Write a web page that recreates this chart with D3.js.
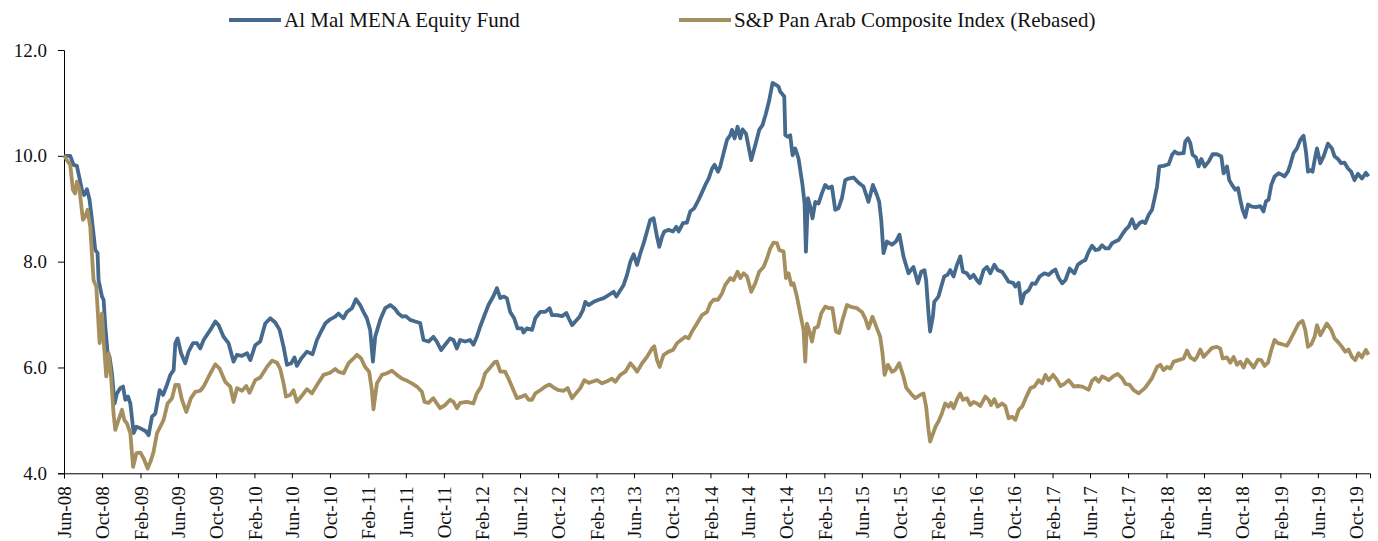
<!DOCTYPE html>
<html>
<head>
<meta charset="utf-8">
<script src="https://cdn.jsdelivr.net/npm/d3@7"></script>
<style>
  body { margin: 0; background: #fff; }
  svg { display: block; font-family: "Liberation Serif", serif; }
</style>
</head>
<body>
<script>
    // Data: [decimal year, value]
    let fundName = "Al Mal MENA Equity Fund";
    let indexName = "S&P Pan Arab Composite Index (Rebased)";
    let yTicks = [4, 6, 8, 10, 12];

    let fundSeries = [
        [2008.417,10.00],[2008.470,10.00],[2008.499,9.83],[2008.528,9.81],[2008.542,9.67],[2008.572,9.36],
        [2008.592,9.26],[2008.616,9.37],[2008.639,9.17],[2008.660,8.79],[2008.689,8.22],[2008.709,8.16],
        [2008.718,7.65],[2008.748,7.34],[2008.762,7.28],[2008.777,6.77],[2008.797,6.27],[2008.814,6.20],
        [2008.835,5.89],[2008.858,5.32],[2008.879,5.51],[2008.908,5.61],[2008.932,5.64],[2008.952,5.39],
        [2008.976,5.45],[2008.996,5.32],[2009.025,4.76],[2009.049,4.88],[2009.084,4.85],[2009.128,4.80],
        [2009.156,4.72],[2009.186,5.07],[2009.215,5.13],[2009.253,5.57],[2009.283,5.48],[2009.312,5.64],
        [2009.347,5.86],[2009.376,5.95],[2009.391,6.46],[2009.411,6.55],[2009.441,6.27],[2009.478,6.08],
        [2009.507,6.30],[2009.546,6.46],[2009.581,6.46],[2009.610,6.36],[2009.639,6.52],[2009.698,6.71],
        [2009.742,6.87],[2009.771,6.80],[2009.814,6.58],[2009.858,6.46],[2009.902,6.11],[2009.932,6.24],
        [2009.976,6.22],[2010.020,6.27],[2010.049,6.14],[2010.092,6.42],[2010.136,6.49],[2010.180,6.83],
        [2010.224,6.93],[2010.268,6.85],[2010.306,6.71],[2010.341,6.39],[2010.371,6.05],[2010.408,6.08],
        [2010.437,6.19],[2010.458,6.03],[2010.496,6.17],[2010.546,6.30],[2010.595,6.25],[2010.634,6.52],
        [2010.663,6.65],[2010.706,6.83],[2010.750,6.91],[2010.794,6.96],[2010.823,7.02],[2010.867,6.93],
        [2010.897,7.05],[2010.941,7.12],[2010.976,7.29],[2011.013,7.18],[2011.042,7.05],[2011.072,6.93],
        [2011.101,6.71],[2011.125,6.11],[2011.145,6.58],[2011.189,6.90],[2011.233,7.12],[2011.277,7.18],
        [2011.314,7.12],[2011.349,7.02],[2011.385,6.96],[2011.414,6.97],[2011.452,6.90],[2011.496,6.87],
        [2011.540,6.84],[2011.569,6.52],[2011.613,6.49],[2011.656,6.58],[2011.686,6.49],[2011.724,6.33],
        [2011.759,6.43],[2011.803,6.55],[2011.832,6.52],[2011.862,6.36],[2011.891,6.52],[2011.935,6.49],
        [2011.978,6.52],[2012.007,6.43],[2012.037,6.58],[2012.066,6.77],[2012.110,7.02],[2012.139,7.18],
        [2012.183,7.35],[2012.213,7.50],[2012.242,7.31],[2012.271,7.34],[2012.300,7.31],[2012.329,7.05],
        [2012.364,6.93],[2012.393,6.74],[2012.432,6.74],[2012.446,6.66],[2012.476,6.74],[2012.520,6.71],
        [2012.549,6.93],[2012.592,7.05],[2012.636,7.05],[2012.674,7.12],[2012.695,6.99],[2012.739,6.99],
        [2012.783,6.97],[2012.821,7.03],[2012.841,6.93],[2012.871,6.80],[2012.899,6.87],[2012.937,6.96],
        [2012.967,7.09],[2012.987,7.24],[2013.016,7.18],[2013.060,7.24],[2013.104,7.28],[2013.148,7.31],
        [2013.192,7.37],[2013.235,7.43],[2013.259,7.34],[2013.294,7.46],[2013.323,7.56],[2013.353,7.75],
        [2013.382,8.00],[2013.411,8.14],[2013.441,7.94],[2013.470,8.16],[2013.499,8.35],[2013.528,8.57],
        [2013.557,8.79],[2013.586,8.82],[2013.616,8.47],[2013.636,8.28],[2013.660,8.47],[2013.680,8.57],
        [2013.718,8.60],[2013.756,8.57],[2013.785,8.66],[2013.806,8.57],[2013.844,8.73],[2013.879,8.74],
        [2013.908,8.95],[2013.943,9.01],[2013.981,9.17],[2014.009,9.30],[2014.040,9.45],[2014.069,9.57],
        [2014.099,9.76],[2014.121,9.83],[2014.151,9.70],[2014.171,9.80],[2014.200,10.05],[2014.230,10.30],
        [2014.259,10.39],[2014.274,10.49],[2014.297,10.33],[2014.323,10.55],[2014.347,10.33],[2014.367,10.50],
        [2014.397,10.42],[2014.420,10.17],[2014.443,9.92],[2014.478,10.20],[2014.513,10.49],[2014.542,10.58],
        [2014.572,10.80],[2014.601,11.05],[2014.630,11.38],[2014.660,11.34],[2014.683,11.31],[2014.698,11.21],
        [2014.733,11.12],[2014.742,10.39],[2014.765,10.36],[2014.785,10.39],[2014.806,10.01],[2014.829,10.14],
        [2014.858,9.95],[2014.893,9.45],[2014.911,9.10],[2014.923,8.19],[2014.941,9.20],[2014.961,9.04],
        [2014.981,8.82],[2015.005,9.13],[2015.034,9.10],[2015.063,9.29],[2015.092,9.45],[2015.121,9.39],
        [2015.151,9.42],[2015.180,8.98],[2015.209,9.01],[2015.239,9.20],[2015.268,9.54],[2015.297,9.57],
        [2015.341,9.59],[2015.385,9.49],[2015.428,9.42],[2015.472,9.13],[2015.511,9.45],[2015.546,9.26],
        [2015.566,9.13],[2015.584,8.79],[2015.604,8.16],[2015.634,8.38],[2015.678,8.32],[2015.713,8.38],
        [2015.744,8.51],[2015.779,8.10],[2015.823,7.78],[2015.867,7.90],[2015.906,7.59],[2015.935,7.81],
        [2015.963,7.84],[2015.978,7.65],[2015.999,7.02],[2016.013,6.68],[2016.037,6.96],[2016.049,7.24],
        [2016.086,7.34],[2016.107,7.50],[2016.136,7.72],[2016.165,7.75],[2016.189,7.84],[2016.218,7.72],
        [2016.248,7.94],[2016.277,8.10],[2016.300,7.81],[2016.335,7.78],[2016.364,7.69],[2016.393,7.75],
        [2016.423,7.65],[2016.446,7.59],[2016.481,7.84],[2016.511,7.90],[2016.540,7.78],[2016.575,7.94],
        [2016.604,7.84],[2016.642,7.81],[2016.671,7.72],[2016.700,7.62],[2016.739,7.60],[2016.759,7.53],
        [2016.788,7.60],[2016.812,7.21],[2016.838,7.40],[2016.876,7.46],[2016.906,7.59],[2016.935,7.58],
        [2016.972,7.72],[2017.013,7.78],[2017.051,7.75],[2017.081,7.81],[2017.110,7.85],[2017.139,7.69],
        [2017.169,7.59],[2017.198,7.65],[2017.235,7.87],[2017.277,7.78],[2017.306,7.94],[2017.344,8.00],
        [2017.373,8.03],[2017.402,8.19],[2017.432,8.30],[2017.461,8.22],[2017.490,8.23],[2017.520,8.31],
        [2017.549,8.25],[2017.578,8.25],[2017.608,8.35],[2017.636,8.38],[2017.665,8.41],[2017.695,8.51],
        [2017.724,8.60],[2017.753,8.66],[2017.783,8.80],[2017.812,8.63],[2017.849,8.73],[2017.876,8.76],
        [2017.899,8.73],[2017.928,8.88],[2017.958,8.98],[2017.981,9.20],[2018.002,9.42],[2018.022,9.80],
        [2018.060,9.81],[2018.104,9.84],[2018.134,10.02],[2018.157,10.08],[2018.186,10.04],[2018.235,10.05],
        [2018.250,10.27],[2018.274,10.33],[2018.294,10.24],[2018.314,10.02],[2018.344,9.97],[2018.367,9.80],
        [2018.391,9.94],[2018.420,9.80],[2018.455,9.89],[2018.490,10.03],[2018.528,10.03],[2018.566,9.99],
        [2018.586,9.67],[2018.616,9.80],[2018.636,9.54],[2018.660,9.45],[2018.689,9.36],[2018.713,9.39],
        [2018.733,9.17],[2018.753,8.98],[2018.777,8.84],[2018.800,9.08],[2018.835,9.04],[2018.870,9.03],
        [2018.908,9.05],[2018.937,8.95],[2018.958,9.14],[2018.981,9.17],[2019.005,9.45],[2019.034,9.61],
        [2019.069,9.67],[2019.099,9.64],[2019.121,9.61],[2019.151,9.70],[2019.171,9.83],[2019.200,10.05],
        [2019.230,10.14],[2019.259,10.30],[2019.288,10.38],[2019.309,10.08],[2019.327,9.70],[2019.347,9.73],
        [2019.367,9.70],[2019.385,9.92],[2019.406,10.14],[2019.435,9.86],[2019.464,9.99],[2019.502,10.23],
        [2019.537,10.14],[2019.560,9.99],[2019.590,9.94],[2019.619,9.86],[2019.648,9.87],[2019.678,9.76],
        [2019.706,9.70],[2019.735,9.54],[2019.765,9.66],[2019.800,9.57],[2019.835,9.68],[2019.858,9.61]
    ];

    let indexSeries = [
        [2008.417,10.00],[2008.441,9.92],[2008.470,9.83],[2008.493,9.36],[2008.513,9.29],[2008.528,9.51],
        [2008.551,9.36],[2008.581,8.79],[2008.601,8.85],[2008.621,8.98],[2008.645,8.66],[2008.674,7.65],
        [2008.698,7.53],[2008.727,6.46],[2008.748,7.02],[2008.762,6.52],[2008.785,5.83],[2008.806,6.27],
        [2008.827,5.83],[2008.849,5.13],[2008.864,4.82],[2008.893,5.01],[2008.923,5.20],[2008.943,5.01],
        [2008.967,4.94],[2008.996,4.76],[2009.020,4.12],[2009.049,4.38],[2009.084,4.39],[2009.113,4.28],
        [2009.148,4.09],[2009.178,4.25],[2009.200,4.41],[2009.230,4.76],[2009.259,4.88],[2009.288,5.01],
        [2009.323,5.32],[2009.362,5.42],[2009.391,5.67],[2009.420,5.67],[2009.449,5.39],[2009.487,5.16],
        [2009.528,5.42],[2009.566,5.54],[2009.610,5.56],[2009.639,5.64],[2009.698,5.89],[2009.742,6.06],
        [2009.779,5.98],[2009.829,5.73],[2009.873,5.64],[2009.902,5.35],[2009.932,5.61],[2009.976,5.56],
        [2010.013,5.65],[2010.042,5.52],[2010.092,5.76],[2010.136,5.81],[2010.195,6.01],[2010.239,6.13],
        [2010.283,6.09],[2010.312,5.97],[2010.341,5.70],[2010.362,5.45],[2010.399,5.48],[2010.428,5.57],
        [2010.458,5.35],[2010.496,5.45],[2010.546,5.59],[2010.590,5.51],[2010.634,5.67],[2010.692,5.86],
        [2010.750,5.90],[2010.794,5.97],[2010.823,5.92],[2010.867,5.89],[2010.911,6.08],[2010.955,6.17],
        [2010.985,6.24],[2011.022,6.17],[2011.057,6.01],[2011.092,5.92],[2011.116,5.57],[2011.130,5.21],
        [2011.160,5.70],[2011.204,5.86],[2011.248,5.89],[2011.292,5.94],[2011.335,5.86],[2011.379,5.79],
        [2011.414,5.76],[2011.467,5.70],[2011.511,5.64],[2011.555,5.54],[2011.578,5.35],[2011.613,5.33],
        [2011.656,5.42],[2011.686,5.32],[2011.715,5.23],[2011.759,5.29],[2011.803,5.39],[2011.832,5.35],
        [2011.862,5.23],[2011.891,5.33],[2011.949,5.35],[2012.007,5.32],[2012.037,5.51],[2012.075,5.64],
        [2012.110,5.89],[2012.154,6.00],[2012.192,6.10],[2012.213,6.11],[2012.242,5.92],[2012.285,5.92],
        [2012.314,5.79],[2012.344,5.64],[2012.388,5.42],[2012.432,5.45],[2012.461,5.48],[2012.490,5.39],
        [2012.520,5.39],[2012.549,5.51],[2012.592,5.57],[2012.636,5.64],[2012.674,5.68],[2012.709,5.62],
        [2012.753,5.57],[2012.797,5.56],[2012.832,5.61],[2012.871,5.42],[2012.908,5.52],[2012.943,5.61],
        [2012.978,5.76],[2013.016,5.71],[2013.060,5.74],[2013.090,5.76],[2013.134,5.70],[2013.178,5.74],
        [2013.221,5.79],[2013.250,5.73],[2013.294,5.86],[2013.338,5.92],[2013.382,6.08],[2013.411,6.01],
        [2013.441,5.92],[2013.485,6.08],[2013.528,6.20],[2013.572,6.36],[2013.592,6.40],[2013.616,6.14],
        [2013.639,6.01],[2013.674,6.24],[2013.718,6.30],[2013.756,6.33],[2013.792,6.46],[2013.827,6.52],
        [2013.864,6.58],[2013.893,6.55],[2013.923,6.68],[2013.967,6.83],[2014.011,6.99],[2014.055,7.05],
        [2014.084,7.21],[2014.113,7.28],[2014.151,7.28],[2014.186,7.40],[2014.215,7.56],[2014.259,7.69],
        [2014.288,7.65],[2014.323,7.81],[2014.347,7.69],[2014.376,7.78],[2014.406,7.72],[2014.443,7.43],
        [2014.478,7.59],[2014.513,7.81],[2014.551,7.90],[2014.581,8.06],[2014.610,8.25],[2014.639,8.36],
        [2014.669,8.35],[2014.689,8.22],[2014.727,8.19],[2014.748,7.69],[2014.771,7.78],[2014.794,7.56],
        [2014.814,7.59],[2014.844,7.34],[2014.873,7.02],[2014.902,6.71],[2014.917,6.11],[2014.932,6.83],
        [2014.955,6.68],[2014.976,6.49],[2014.999,6.74],[2015.028,6.77],[2015.057,7.02],[2015.092,7.15],
        [2015.128,7.12],[2015.156,7.12],[2015.186,6.68],[2015.215,6.65],[2015.244,6.90],[2015.283,7.18],
        [2015.327,7.14],[2015.371,7.12],[2015.414,7.05],[2015.443,6.93],[2015.472,6.74],[2015.507,6.96],
        [2015.546,6.74],[2015.575,6.58],[2015.595,6.27],[2015.613,5.86],[2015.642,6.05],[2015.678,5.92],
        [2015.706,5.95],[2015.742,6.08],[2015.779,5.83],[2015.803,5.62],[2015.847,5.50],[2015.882,5.42],
        [2015.926,5.48],[2015.955,5.51],[2015.978,5.26],[2015.999,4.82],[2016.013,4.60],[2016.060,4.88],
        [2016.075,4.94],[2016.086,4.98],[2016.116,5.13],[2016.145,5.32],[2016.174,5.26],[2016.195,5.33],
        [2016.218,5.23],[2016.253,5.42],[2016.277,5.51],[2016.300,5.39],[2016.335,5.42],[2016.364,5.29],
        [2016.393,5.35],[2016.423,5.32],[2016.452,5.27],[2016.496,5.45],[2016.525,5.39],[2016.546,5.29],
        [2016.575,5.40],[2016.604,5.26],[2016.642,5.32],[2016.671,5.27],[2016.700,5.04],[2016.730,5.07],
        [2016.759,5.01],[2016.788,5.20],[2016.818,5.26],[2016.856,5.45],[2016.891,5.61],[2016.926,5.64],
        [2016.963,5.76],[2016.993,5.70],[2017.022,5.86],[2017.051,5.76],[2017.090,5.86],[2017.125,5.76],
        [2017.154,5.65],[2017.189,5.69],[2017.227,5.76],[2017.271,5.64],[2017.306,5.65],[2017.344,5.64],
        [2017.373,5.61],[2017.402,5.58],[2017.432,5.75],[2017.461,5.80],[2017.490,5.73],[2017.520,5.83],
        [2017.549,5.80],[2017.578,5.76],[2017.616,5.83],[2017.656,5.88],[2017.695,5.80],[2017.724,5.69],
        [2017.762,5.67],[2017.797,5.57],[2017.841,5.51],[2017.899,5.62],[2017.958,5.80],[2018.002,6.01],
        [2018.031,6.05],[2018.060,5.95],[2018.090,6.01],[2018.119,5.98],[2018.148,6.11],[2018.192,6.14],
        [2018.235,6.17],[2018.265,6.32],[2018.294,6.19],[2018.332,6.14],[2018.353,6.20],[2018.382,6.34],
        [2018.411,6.20],[2018.441,6.27],[2018.485,6.37],[2018.528,6.39],[2018.557,6.36],[2018.578,6.17],
        [2018.616,6.19],[2018.645,6.09],[2018.674,6.20],[2018.704,6.05],[2018.733,6.11],[2018.762,6.00],
        [2018.792,6.15],[2018.821,6.08],[2018.850,6.00],[2018.888,6.15],[2018.917,6.14],[2018.946,6.03],
        [2018.976,6.09],[2019.005,6.33],[2019.034,6.52],[2019.063,6.46],[2019.099,6.44],[2019.142,6.41],
        [2019.171,6.52],[2019.209,6.68],[2019.244,6.83],[2019.279,6.88],[2019.303,6.71],[2019.327,6.39],
        [2019.356,6.44],[2019.385,6.58],[2019.406,6.80],[2019.435,6.61],[2019.464,6.72],[2019.493,6.83],
        [2019.531,6.71],[2019.560,6.55],[2019.595,6.47],[2019.625,6.39],[2019.654,6.30],[2019.683,6.34],
        [2019.713,6.20],[2019.742,6.14],[2019.771,6.27],[2019.800,6.19],[2019.835,6.33],[2019.858,6.24]
    ];

    // decimal year -> Date (UTC)
    function yearToDate(t) {
        let y = Math.floor(t);
        let a = Date.UTC(y, 0, 1), b = Date.UTC(y + 1, 0, 1);
        return new Date(a + (t - y) * (b - a));
    }

    let width = 1378, height = 541;
    let margin = { top: 50, right: 8, bottom: 68, left: 64 };

    let svg = d3.select("body")
        .append("svg")
        .attr("width", width)
        .attr("height", height);

    let x = d3.scaleUtc()
        .domain([new Date(Date.UTC(2008, 5, 1)), new Date(Date.UTC(2019, 10, 15))])
        .range([margin.left, width - margin.right]);

    let y = d3.scaleLinear()
        .domain([4, 12])
        .range([height - margin.bottom + 0.3, margin.top]);

    // Axes
    let xTicks = d3.utcMonth.range(new Date(Date.UTC(2008, 5, 1)), new Date(Date.UTC(2019, 10, 2)), 4);

    let xAxis = svg.append("g")
        .attr("transform", `translate(0, ${y(4)})`)
        .call(d3.axisBottom(x)
            .tickValues(xTicks)
            .tickFormat(d3.utcFormat("%b-%y"))
            .tickSizeOuter(0)
            .tickSize(5));
    xAxis.selectAll("text")
        .attr("transform", "rotate(-90)")
        .attr("x", -13)
        .attr("y", 0)
        .attr("dy", "0.35em")
        .attr("text-anchor", "end");

    let yAxis = svg.append("g")
        .attr("transform", `translate(${margin.left}, 0)`)
        .call(d3.axisLeft(y)
            .tickValues(yTicks)
            .tickFormat(d3.format(".1f"))
            .tickSizeOuter(0)
            .tickSize(6)
            .tickPadding(11));

    svg.selectAll(".tick text")
        .attr("fill", "#111")
        .style("font-family", "'Liberation Serif', serif")
        .style("font-size", "19px");
    svg.selectAll(".domain, .tick line").attr("stroke", "#000");

    // Lines
    let line = d3.line()
        .x((d) => x(yearToDate(d[0])))
        .y((d) => y(d[1]))
        .curve(d3.curveLinear);

    let colors = { fund: "#456a8d", index: "#a68f5f" };

    svg.append("path")
        .datum(fundSeries)
        .attr("d", line)
        .attr("fill", "none")
        .attr("stroke", colors.fund)
        .attr("stroke-width", 3.8)
        .attr("stroke-linejoin", "round");

    svg.append("path")
        .datum(indexSeries)
        .attr("d", line)
        .attr("fill", "none")
        .attr("stroke", colors.index)
        .attr("stroke-width", 3.8)
        .attr("stroke-linejoin", "round");

    // Legend
    let legend = [
        { name: fundName, color: colors.fund, x: 229 },
        { name: indexName, color: colors.index, x: 679 }
    ];
    let lg = svg.selectAll("g.legend")
        .data(legend)
        .enter()
        .append("g")
        .attr("class", "legend")
        .attr("transform", (d) => `translate(${d.x}, 20)`);
    lg.append("line")
        .attr("x1", 0).attr("x2", 52)
        .attr("stroke", (d) => d.color)
        .attr("stroke-width", 4);
    lg.append("text")
        .attr("x", 55)
        .attr("dy", "0.33em")
        .attr("fill", "#111")
        .style("font-size", "21px")
        .text((d) => d.name);
</script>
</body>
</html>
